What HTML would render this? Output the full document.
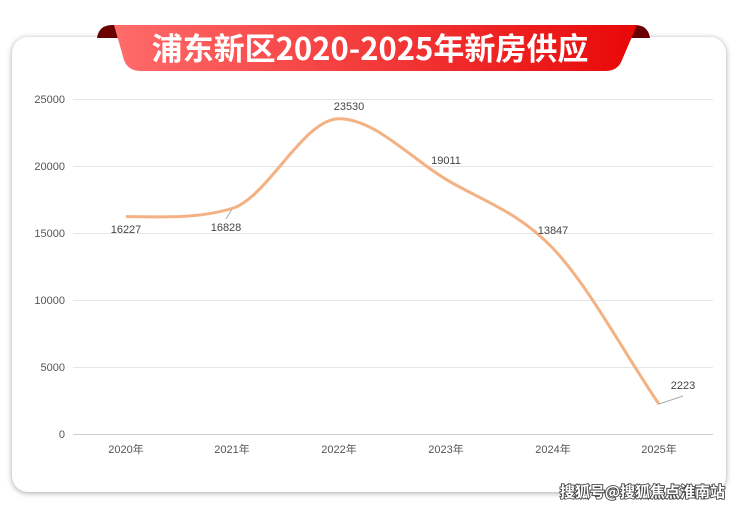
<!DOCTYPE html>
<html><head><meta charset="utf-8"><style>
body{margin:0;width:740px;height:509px;background:#fff;overflow:hidden;font-family:"Liberation Sans","Noto Sans CJK SC",sans-serif;}
.card{position:absolute;left:12px;top:37px;width:714px;height:455px;border-radius:16px;background:#fff;box-shadow:0 1px 6px rgba(0,0,0,0.35);}
</style></head><body>
<div class="card"></div>
<svg width="740" height="509" style="position:absolute;left:0;top:0">
<defs><linearGradient id="g" x1="0" x2="1"><stop offset="0" stop-color="#ff6b6b"/><stop offset="1" stop-color="#e80808"/></linearGradient></defs>
<path d="M97,38 Q99,25 112,25 L120,25 L120,38 Z" fill="#6b0000"/>
<path d="M650,38 Q648,25 635,25 L627,25 L627,38 Z" fill="#6b0000"/>
<path d="M114,25 L637,25 L622,60 Q618,71 605,71 L141,71 Q128,71 124,60 Z" fill="url(#g)"/>
<text x="370" y="60" text-anchor="middle" font-size="31" font-weight="bold" fill="#fff" font-family="'Noto Sans CJK SC',sans-serif">浦东新区2020-2025年新房供应</text>
<g stroke="#e6e6e6" stroke-width="1">
<line x1="73" x2="713" y1="99.5" y2="99.5"/><line x1="73" x2="713" y1="166.5" y2="166.5"/><line x1="73" x2="713" y1="233.5" y2="233.5"/><line x1="73" x2="713" y1="300.5" y2="300.5"/><line x1="73" x2="713" y1="367.5" y2="367.5"/><line x1="73" x2="713" y1="434.5" y2="434.5" stroke="#d0d0d0"/>
</g>
<g font-size="11" fill="#555" text-anchor="end">
<text x="65" y="103">25000</text><text x="65" y="170">20000</text><text x="65" y="237">15000</text><text x="65" y="304">10000</text><text x="65" y="371">5000</text><text x="65" y="438">0</text>
</g>
<g font-size="11" fill="#555" text-anchor="middle">
<text x="126" y="453">2020年</text><text x="232" y="453">2021年</text><text x="339" y="453">2022年</text><text x="446" y="453">2023年</text><text x="553" y="453">2024年</text><text x="659" y="453">2025年</text>
</g>
<path d="M126,216.6 C161.5,216.6 196.5,219.2 232,208.5 C267.5,197.8 303.5,118.7 339,118.7 C374.5,118.7 410.5,158 446,179.3 C481.5,200.6 517.5,211 553,248.4 C588.5,285.8 623.5,352 659,404.2" fill="none" stroke="#f4b183" stroke-width="3"/>
<g stroke="#aaa" stroke-width="1"><line x1="232" y1="209" x2="226" y2="219"/><line x1="659" y1="404" x2="683" y2="396"/></g>
<g font-size="11" fill="#444" text-anchor="middle">
<text x="126" y="233">16227</text><text x="226" y="231">16828</text><text x="349" y="110">23530</text><text x="446" y="164">19011</text><text x="553" y="234">13847</text><text x="683" y="389">2223</text>
</g>
<text x="725" y="497" text-anchor="end" font-size="15" font-weight="bold" fill="#fff" stroke="#444" stroke-width="1.8" paint-order="stroke" font-family="'Noto Sans CJK SC',sans-serif">搜狐号@搜狐焦点淮南站</text>
</svg>
</body></html>
